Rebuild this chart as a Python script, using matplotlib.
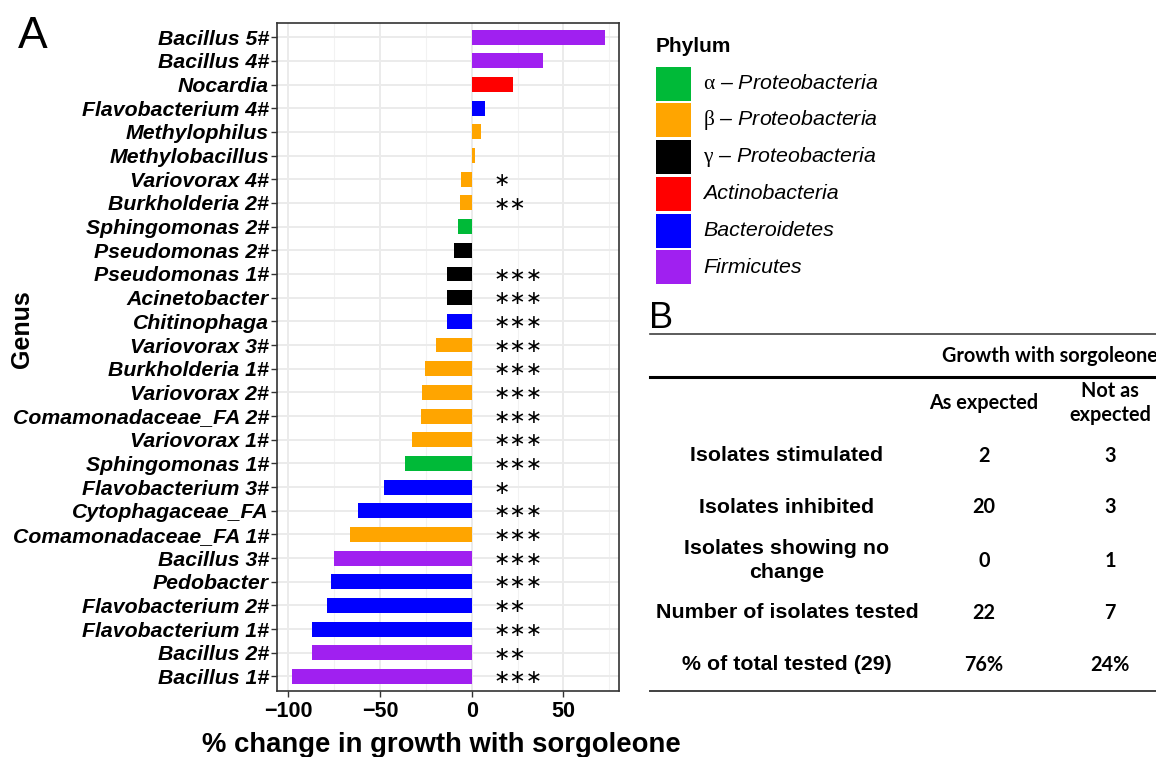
import matplotlib
matplotlib.use("Agg")
import matplotlib.pyplot as plt
from matplotlib.patches import Rectangle
from matplotlib.lines import Line2D

plt.rcParams['font.family'] = ['Liberation Sans', 'DejaVu Sans']
plt.rcParams['mathtext.fontset'] = 'custom'
plt.rcParams['mathtext.rm'] = 'Liberation Serif'
plt.rcParams['mathtext.it'] = 'Liberation Sans:italic'

# ---- data (top to bottom as drawn) ----
genus = ['Bacillus 5#', 'Bacillus 4#', 'Nocardia', 'Flavobacterium 4#', 'Methylophilus',
         'Methylobacillus', 'Variovorax 4#', 'Burkholderia 2#', 'Sphingomonas 2#',
         'Pseudomonas 2#', 'Pseudomonas 1#', 'Acinetobacter', 'Chitinophaga',
         'Variovorax 3#', 'Burkholderia 1#', 'Variovorax 2#', 'Comamonadaceae_FA 2#',
         'Variovorax 1#', 'Sphingomonas 1#', 'Flavobacterium 3#', 'Cytophagaceae_FA',
         'Comamonadaceae_FA 1#', 'Bacillus 3#', 'Pedobacter', 'Flavobacterium 2#',
         'Flavobacterium 1#', 'Bacillus 2#', 'Bacillus 1#']
pct_change = [72.7, 38.7, 22.7, 7.1, 4.9, 1.8, -5.8, -6.4, -7.3, -9.7, -13.3, -13.5, -13.5,
              -19.5, -25.6, -26.9, -27.8, -32.4, -36.4, -47.8, -61.9, -66.2, -75.3, -76.8,
              -79.1, -87.0, -87.1, -98.2]
phylum = ['Firm', 'Firm', 'Actino', 'Bact', 'beta', 'beta', 'beta', 'beta', 'alpha',
          'gamma', 'gamma', 'gamma', 'Bact', 'beta', 'beta', 'beta', 'beta', 'beta',
          'alpha', 'Bact', 'Bact', 'beta', 'Firm', 'Bact', 'Bact', 'Bact', 'Firm', 'Firm']
signif = ['', '', '', '', '', '', '*', '**', '', '', '***', '***', '***', '***', '***',
          '***', '***', '***', '***', '*', '***', '***', '***', '***', '**', '***', '**', '***']

phylum_keys = ['alpha', 'beta', 'gamma', 'Actino', 'Bact', 'Firm']
phylum_labels = [r'$\mathrm{\alpha}$ – Proteobacteria', r'$\mathrm{\beta}$ – Proteobacteria',
                 r'$\mathrm{\gamma}$ – Proteobacteria', 'Actinobacteria', 'Bacteroidetes',
                 'Firmicutes']
phylum_colors = {'alpha': '#00BA38', 'beta': '#FFA500', 'gamma': '#000000',
                 'Actino': '#FF0000', 'Bact': '#0000FF', 'Firm': '#A020F0'}

# table B
row_labels = ['Isolates stimulated', 'Isolates inhibited', 'Isolates showing no\nchange',
              'Number of isolates tested', '% of total tested (29)']
as_expected = ['2', '20', '0', '22', '76%']
not_expected = ['3', '3', '1', '7', '24%']

W, H = 1156, 757
def fx(x):
    return x / W
def fy(y):
    return 1 - y / H

fig = plt.figure(figsize=(W / 100, H / 100), dpi=100)
ax = fig.add_axes([fx(276.7), fy(690.7), fx(619.3 - 276.7), (690.7 - 23) / H])

ypos = list(range(len(genus)))
ax.barh(ypos, pct_change, height=0.63, color=[phylum_colors[p] for p in phylum], zorder=3)
for y, s in zip(ypos, signif):
    if s:
        ax.text(12.0, y + 0.05, '∗' * len(s), ha='left', va='center', fontsize=14,
                family='DejaVu Sans', zorder=4)

ax.set_xlim(-106.4, 80.5)
ax.set_ylim(len(genus) - 0.4, -0.6)
ax.set_xticks([-100, -50, 0, 50])
ax.set_xticklabels(['−100', '−50', '0', '50'], fontsize=15.5, fontweight='bold')
ax.set_xticks([-75, -25, 25, 75], minor=True)
ax.set_yticks(ypos)
ax.set_yticklabels(genus, fontsize=15.3, fontweight='bold', fontstyle='italic')
ax.grid(which='major', color='#EBEBEB', linewidth=1.4, zorder=0)
ax.grid(which='minor', axis='x', color='#F2F2F2', linewidth=0.8, zorder=0)
ax.set_axisbelow(True)
ax.tick_params(axis='both', which='major', length=4, width=1, color='#333333')
ax.tick_params(axis='y', pad=1.5)
ax.tick_params(axis='x', pad=3.5)
ax.tick_params(axis='x', which='minor', length=0)
for sp in ax.spines.values():
    sp.set_color('#333333')
    sp.set_linewidth(1.2)

fig.text(fx(441), fy(752), '% change in growth with sorgoleone', ha='center', va='baseline',
         fontsize=19.8, fontweight='bold')
fig.text(fx(22), fy(329), 'Genus', rotation=90, ha='center', va='center',
         fontsize=18, fontweight='bold')
fig.text(fx(18), fy(48), 'A', fontsize=32, ha='left', va='baseline')

# legend drawn as key squares + labels
fig.text(fx(656), fy(46), 'Phylum', ha='left', va='center', fontsize=15, fontweight='bold')
key_w, key_h, pitch = 34.7, 34, 36.7
for i, (k, lab) in enumerate(zip(phylum_keys, phylum_labels)):
    top = 66.7 + i * pitch
    fig.add_artist(Rectangle((fx(656), fy(top + key_h)), key_w / W, key_h / H,
                             facecolor=phylum_colors[k], edgecolor='none',
                             transform=fig.transFigure))
    fig.text(fx(703), fy(top + key_h / 2), lab, ha='left', va='center',
             fontsize=15.4, fontstyle='italic')

# ---- panel B table ----
fig.text(fx(649), fy(328), 'B', fontsize=26, ha='left', va='baseline')
fig.add_artist(Line2D([fx(650), 1], [fy(334.3), fy(334.3)], color='#404040', linewidth=1.2))
fig.add_artist(Line2D([fx(650), 1], [fy(377.3), fy(377.3)], color='black', linewidth=2.2))
fig.add_artist(Line2D([fx(650), 1], [fy(691), fy(691)], color='#404040', linewidth=1.4))

cal = ['Lato', 'DejaVu Sans']
fig.text(fx(942), fy(356), 'Growth with sorgoleone', ha='left', va='center',
         fontsize=14.3, fontweight='bold', family=cal)
fig.text(fx(984), fy(403), 'As expected', ha='center', va='center',
         fontsize=14.3, fontweight='bold', family=cal)
fig.text(fx(1110), fy(403), 'Not as\nexpected', ha='center', va='center',
         fontsize=14.3, fontweight='bold', family=cal, linespacing=1.3)
row_y = [455.7, 507.3, 560.7, 612.7, 665]
for yy, lab, a, b in zip(row_y, row_labels, as_expected, not_expected):
    fig.text(fx(787), fy(yy), lab, ha='center', va='center', fontsize=15.4,
             fontweight='bold', linespacing=1.3)
    fig.text(fx(984), fy(yy), a, ha='center', va='center', fontsize=14.3,
             fontweight='bold', family=cal)
    fig.text(fx(1110), fy(yy), b, ha='center', va='center', fontsize=14.3,
             fontweight='bold', family=cal)

fig.savefig('out.png', dpi=100)
